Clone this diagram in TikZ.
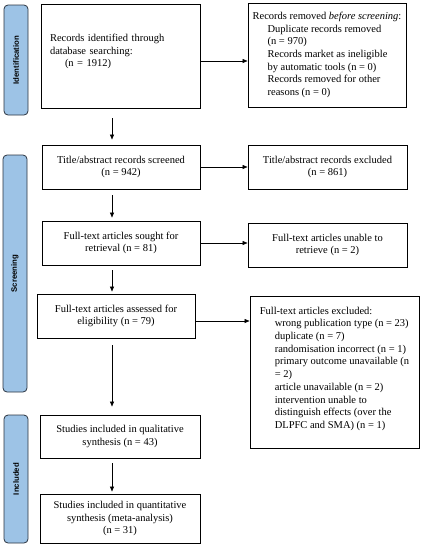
\documentclass[tikz,border=0pt]{standalone}
\usepackage{fontspec}
\setmainfont{Liberation Serif}
\setsansfont{Liberation Sans}
\usetikzlibrary{arrows.meta}
\definecolor{stagefill}{HTML}{9DC3E6}
\definecolor{stageline}{HTML}{2B3440}
\tikzset{
  box/.style={draw, line width=0.9pt, align=center, inner sep=0pt,
    font=\fontsize{10.5}{12.7}\selectfont},
  lbox/.style={box, align=left},
  stage/.style={draw=stageline, fill=stagefill, line width=0.8pt,
    rounded corners=4pt, inner sep=0pt,
    font=\fontsize{7.8}{9}\sffamily\bfseries},
  arr/.style={-{Triangle[length=5pt,width=4pt]}, line width=0.6pt},
}
\begin{document}
\begin{tikzpicture}[x=1pt,y=-1pt]
  \useasboundingbox (0,0) rectangle (424,550);
  % stages on the left
  \node[stage, minimum width=24pt, minimum height=110pt] (ident) at (16,60)
    {\rotatebox{90}{Identification}};
  \node[stage, minimum width=24pt, minimum height=237pt] (screen) at (15,273.5)
    {\rotatebox{90}{Screening}};
  \node[stage, minimum width=24pt, minimum height=128pt] (incl) at (16,479)
    {\rotatebox{90}{Included}};
  % main column
  \node[lbox, text width=141pt, inner xsep=9pt, minimum height=104pt] (b1) at (120.5,56)
    {Records identified through\\database searching:\\\hspace*{15pt}(n = 1912)\\[-1.5pt]\mbox{}};
  \node[box, minimum width=158pt, minimum height=44pt] (b3) at (121,167)
    {Title/abstract records screened\\(n = 942)};
  \node[box, minimum width=158pt, minimum height=44pt] (b5) at (121,243)
    {Full-text articles sought for\\retrieval (n = 81)};
  \node[box, minimum width=158pt, minimum height=44pt] (b7) at (116,316)
    {Full-text articles assessed for\\eligibility (n = 79)};
  \node[box, minimum width=160pt, minimum height=43pt] (b9) at (120,436.5)
    {Studies included in qualitative\\synthesis (n = 43)};
  \node[box, minimum width=160pt, minimum height=49pt] (b10) at (120,518.5)
    {Studies included in quantitative\\synthesis (meta-analysis)\\(n = 31)};
  % right column
  \node[lbox, minimum width=158pt, minimum height=104pt] (b2) at (327,55)
    {Records removed \textit{before screening}:\\
     \hspace*{15pt}Duplicate records removed\\
     \hspace*{15pt}(n = 970)\\
     \hspace*{15pt}Records market as ineligible\\
     \hspace*{15pt}by automatic tools (n = 0)\\
     \hspace*{15pt}Records removed for other\\
     \hspace*{15pt}reasons (n = 0)};
  \node[box, minimum width=159pt, minimum height=44pt] (b4) at (327.5,167)
    {Title/abstract records excluded\\(n = 861)};
  \node[box, minimum width=159pt, minimum height=44pt] (b6) at (327.5,245)
    {Full-text articles unable to\\retrieve (n = 2)};
  \node[lbox, minimum width=169pt, minimum height=152pt] (b8) at (334.5,372)
    {Full-text articles excluded:\\
     \hspace*{15pt}wrong publication type (n = 23)\\
     \hspace*{15pt}duplicate (n = 7)\\
     \hspace*{15pt}randomisation incorrect (n = 1)\\
     \hspace*{15pt}primary outcome unavailable (n\\
     \hspace*{15pt}= 2)\\
     \hspace*{15pt}article unavailable (n = 2)\\
     \hspace*{15pt}intervention unable to\\
     \hspace*{15pt}distinguish effects (over the\\
     \hspace*{15pt}DLPFC and SMA) (n = 1)\\[-4pt]\mbox{}};
  % arrows
  \coordinate (col) at (112,0);
  \draw[arr, shorten <=10pt, shorten >=5pt] (b1.south -| col) -- (b3.north -| col);
  \draw[arr, shorten <=6pt, shorten >=3pt] (b3.south -| col) -- (b5.north -| col);
  \draw[arr, shorten <=5pt, shorten >=2pt] (b5.south -| col) -- (b7.north -| col);
  \draw[arr, shorten <=7pt, shorten >=8pt] (b7.south -| col) -- (b9.north -| col);
  \draw[arr, shorten <=5pt, shorten >=2pt] (b9.south -| col) -- (b10.north -| col);
  \draw[arr] ([yshift=-5pt]b1.east) -- ([yshift=-5pt]b1.east -| b2.west);
  \draw[arr] (b3.east) -- (b3.east -| b4.west);
  \draw[arr] (b5.east) -- (b5.east -| b6.west);
  \draw[arr] ([yshift=-5pt]b7.east) -- ([yshift=-5pt]b7.east -| b8.west);
\end{tikzpicture}
\end{document}
